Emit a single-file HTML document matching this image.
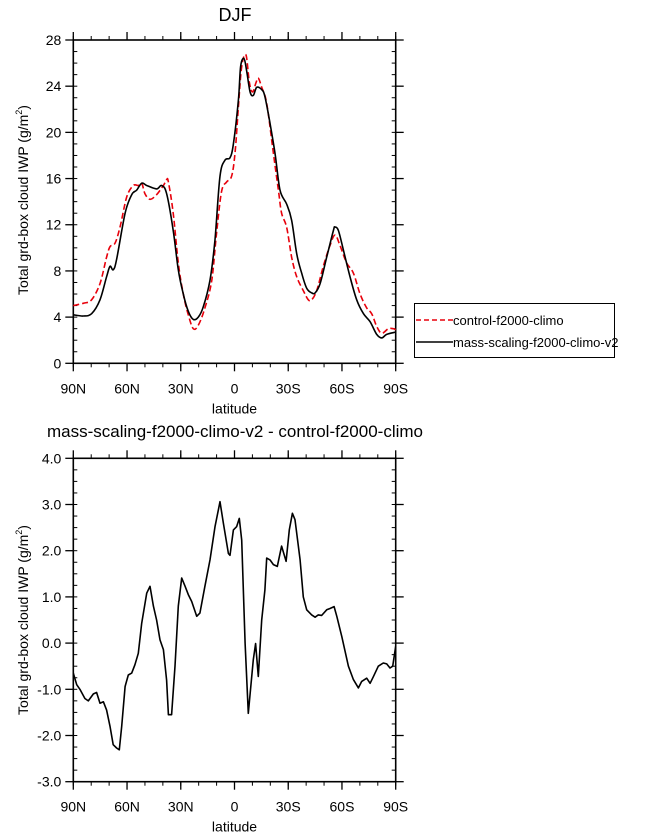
<!DOCTYPE html>
<html><head><meta charset="utf-8"><style>
body{margin:0;background:#fff;width:648px;height:839px;overflow:hidden}
svg{display:block;font-family:"Liberation Sans",Arial,sans-serif}
</style></head><body>
<svg id="chart" width="648" height="839" viewBox="0 0 648 839" xmlns="http://www.w3.org/2000/svg">
<text x="235" y="21" font-size="18" text-anchor="middle">DJF</text>
<text x="235" y="437" font-size="17" text-anchor="middle">mass-scaling-f2000-climo-v2 - control-f2000-climo</text>
<g id="top"></g>
<g id="bot"></g>
<g>
<rect x="414.5" y="303.5" width="200" height="54" fill="#fff" stroke="#000" stroke-width="1"/>
<line x1="416" y1="320" x2="453" y2="320" stroke="#e8000b" stroke-width="1.5" stroke-dasharray="5,3"/>
<text x="453" y="325" font-size="13">control-f2000-climo</text>
<line x1="416" y1="342" x2="453" y2="342" stroke="#000" stroke-width="1.5"/>
<text x="453" y="347" font-size="13">mass-scaling-f2000-climo-v2</text>
</g>
</svg>
<script>
const xTickLabels=["90N","60N","30N","0","30S","60S","90S"];
const xTickLats=[90,60,30,0,-30,-60,-90];
const topYTicks=[0,4,8,12,16,20,24,28];
const botYTicks=[-3,-2,-1,0,1,2,3,4];
const blackLat=[90,84.4,79.8,75.1,71.4,69.5,67.7,65.8,61.1,57.4,54.6,51.8,49,43.5,40.7,37.9,34.2,31.4,28.6,25.8,23,20.2,17.4,13.7,10.9,8.1,5.3,2.5,0.6,-2.2,-3.4,-5.3,-6.8,-8.7,-10.5,-12.4,-15.2,-17,-19.8,-22.6,-25.4,-29.1,-31.9,-34.7,-37.5,-40.3,-43.1,-45,-47.8,-51.5,-55.2,-56.1,-58,-60.8,-64.5,-68.2,-72,-75.7,-79.4,-82.2,-85,-90];
const blackVal=[4.2,4.1,4.3,5.5,7.5,8.4,8.1,9,13,14.6,15,15.6,15.4,15.1,15.4,14.7,11.5,8.1,6,4.5,3.8,4,4.9,7.2,10.7,16.2,17.6,17.8,19,22.8,25.7,26.4,25.3,23.5,23.2,23.9,23.7,23.1,20.8,18.2,15,13.8,12.4,9.5,7.8,6.5,6.1,6.1,6.9,9.2,11.5,11.8,11.5,9.8,7.5,5.5,4.3,3.6,2.5,2.2,2.5,2.7];
const redLat=[90,84.4,79.8,75.1,71.4,69.5,66.7,63.9,60.2,56.5,53.7,51.8,50,47.2,43.5,39.7,37.9,36.9,34.2,31.4,28.6,25.8,23,20.2,16.5,12.7,10,7.2,4.4,1.6,-0.3,-2.2,-4,-6.4,-8.3,-10.1,-12,-13.3,-15.2,-18,-21.7,-24.5,-26.3,-29.1,-31.9,-34.7,-38.4,-41.2,-43.1,-45.9,-49.6,-53.3,-56.1,-58.9,-62.6,-66.4,-70.1,-73.8,-76.6,-79.4,-82.2,-85.9,-88.7,-90];
const redVal=[5,5.2,5.5,6.9,9.2,10.1,10.4,11.8,14.4,15.4,15.4,15.6,14.7,14.2,14.6,15.4,15.9,15.7,13,8.7,6,4.2,3,3.3,4.8,7.2,11.3,14.9,15.7,16.2,18.2,22.2,25.7,26.7,24.3,23.5,24.3,24.7,23.9,22.5,18.2,15,13,11.8,9.2,7.5,6.3,5.5,5.5,6.3,8.4,10.2,11.1,10.2,8.7,7.8,6,4.8,4.3,3.2,2.6,3,3,2.9];
const diffLat=[90,88.1,86.3,83.5,81.6,78.8,77,75.1,73.2,71.4,69.5,67.7,65.8,64.3,63,61.1,59.3,57.4,55.6,53.7,51.8,49,47.2,45.3,43.5,41.6,39.7,37.9,36.9,35.1,33.2,31.4,29.5,27.6,25.8,23.9,21.1,19.3,16.5,13.7,10.9,8.1,6.2,3.4,2.5,0.6,-1.2,-2.7,-4,-5.9,-7.7,-10.5,-11.8,-13.3,-15.2,-17,-18,-19.8,-21.7,-23.9,-26.3,-28.8,-30.6,-32.3,-33.8,-36.6,-38.4,-40.3,-43.1,-45,-46.8,-48.7,-51.5,-53.3,-55.6,-57.1,-59.9,-63.6,-66.4,-69.2,-71,-73.8,-75.7,-77.5,-80.3,-83.1,-85,-86.8,-88.3,-90];
const diffVal=[-0.65,-0.9,-1.0,-1.2,-1.25,-1.1,-1.07,-1.3,-1.27,-1.45,-1.8,-2.2,-2.27,-2.31,-1.8,-0.94,-0.69,-0.65,-0.47,-0.22,0.43,1.08,1.23,0.8,0.5,0.07,-0.14,-0.8,-1.55,-1.55,-0.5,0.8,1.41,1.23,1.05,0.9,0.58,0.65,1.23,1.8,2.52,3.06,2.59,1.94,1.9,2.45,2.52,2.7,2.23,0,-1.52,-0.36,-0.01,-0.72,0.5,1.15,1.84,1.8,1.7,1.66,2.1,1.77,2.45,2.81,2.67,1.8,1.0,0.72,0.61,0.56,0.61,0.6,0.72,0.75,0.79,0.58,0.14,-0.5,-0.79,-0.97,-0.83,-0.76,-0.87,-0.73,-0.5,-0.43,-0.45,-0.54,-0.5,-0.07];

const NS="http://www.w3.org/2000/svg";
function mk(p,tag,a){const e=document.createElementNS(NS,tag);for(const k in a)e.setAttribute(k,a[k]);p.appendChild(e);return e;}
const X0=73.3,X1=395.7;
function xs(lat){return X0+(90-lat)/180*(X1-X0);}

function panel(g,top,bot,ymin,ymax,yTicks,fmt,minorStep,yTitleY){
  const ys=v=>bot-(v-ymin)/(ymax-ymin)*(bot-top);
  const fr=mk(g,'rect',{x:X0,y:top,width:X1-X0,height:bot-top,fill:'none',stroke:'#000','stroke-width':1.6});
  
  
  for(let v=ymin;v<=ymax+1e-9;v+=minorStep){
    const y=ys(v);
    mk(g,'line',{x1:X0,y1:y,x2:X0+4,y2:y,stroke:'#000','stroke-width':1});
    mk(g,'line',{x1:X1,y1:y,x2:X1-4,y2:y,stroke:'#000','stroke-width':1});
  }
  yTicks.forEach(v=>{
    const y=ys(v);
    mk(g,'line',{x1:X0-8,y1:y,x2:X0,y2:y,stroke:'#000','stroke-width':1.3});
    mk(g,'line',{x1:X1,y1:y,x2:X1+8,y2:y,stroke:'#000','stroke-width':1.3});
    const t=mk(g,'text',{x:X0-12,y:y+5,'font-size':14,'text-anchor':'end'});
    t.textContent=fmt(v);
    
    
  });
  for(let l=90;l>=-90;l-=10){
    const x=xs(l);
    mk(g,'line',{x1:x,y1:bot,x2:x,y2:bot+4,stroke:'#000','stroke-width':1});
    mk(g,'line',{x1:x,y1:top,x2:x,y2:top-4,stroke:'#000','stroke-width':1});
  }
  xTickLats.forEach((l,i)=>{
    const x=xs(l);
    mk(g,'line',{x1:x,y1:bot,x2:x,y2:bot+8,stroke:'#000','stroke-width':1.3});
    mk(g,'line',{x1:x,y1:top,x2:x,y2:top-8,stroke:'#000','stroke-width':1.3});
    const t=mk(g,'text',{x:x,y:bot+30,'font-size':14,'text-anchor':'middle'});
    t.textContent=xTickLabels[i];
    
    
  });
  const xt=mk(g,'text',{x:(X0+X1)/2,y:bot+50,'font-size':14,'text-anchor':'middle'});
  xt.textContent='latitude';
  
  
  const yt=mk(g,'text',{x:0,y:0,'font-size':14,'text-anchor':'middle',transform:`translate(28,${yTitleY}) rotate(-90)`});
  yt.innerHTML='Total grd-box cloud IWP (g/m<tspan font-size="9" dy="-6">2</tspan><tspan dy="6">)</tspan>';
  
  
  return ys;
}
function line(g,lats,vals,ys,color,dash,name,smooth){
  const P=lats.map((l,i)=>[xs(l),ys(vals[i])]);
  let d='M'+P[0][0].toFixed(1)+','+P[0][1].toFixed(1);
  for(let i=1;i<P.length;i++){
    if(smooth){
      const p0=P[Math.max(0,i-2)],p1=P[i-1],p2=P[i],p3=P[Math.min(P.length-1,i+1)];
      const c1=[p1[0]+(p2[0]-p0[0])/6,p1[1]+(p2[1]-p0[1])/6];
      const c2=[p2[0]-(p3[0]-p1[0])/6,p2[1]-(p3[1]-p1[1])/6];
      d+=` C${c1[0].toFixed(1)},${c1[1].toFixed(1)} ${c2[0].toFixed(1)},${c2[1].toFixed(1)} ${p2[0].toFixed(1)},${p2[1].toFixed(1)}`;
    } else d+=' L'+P[i][0].toFixed(1)+','+P[i][1].toFixed(1);
  }
  const p=mk(g,'path',{d:d,fill:'none',stroke:color,'stroke-width':1.6,'stroke-linejoin':'round'});
  if(dash)p.setAttribute('stroke-dasharray',dash);
  
  
}
const gt=document.getElementById('top'),gb=document.getElementById('bot');
const ysT=panel(gt,40,363.3,0,28,topYTicks,v=>String(v),1,200);
line(gt,redLat,redVal,ysT,'#e8000b','6,3','control-series',true);
line(gt,blackLat,blackVal,ysT,'#000',null,'mass-scaling-series',true);
const ysB=panel(gb,458.3,781.7,-3,4,botYTicks,v=>v.toFixed(1),0.25,620);
line(gb,diffLat,diffVal,ysB,'#000',null,'difference-series',false);
</script>
</body></html>
